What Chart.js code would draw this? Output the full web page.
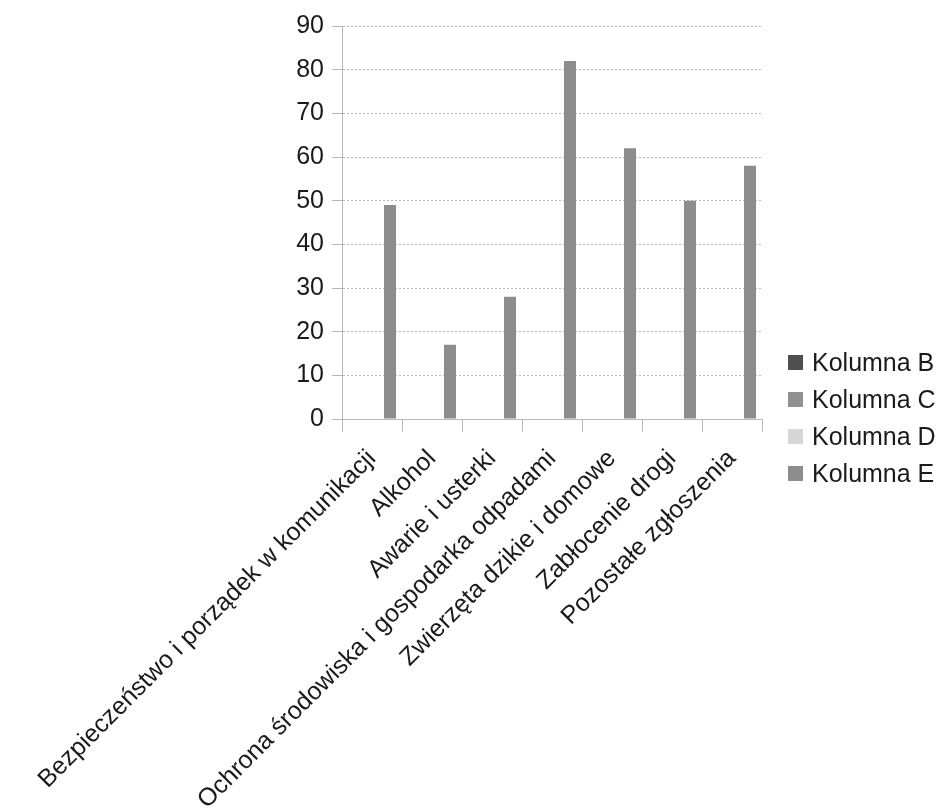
<!DOCTYPE html>
<html>
<head>
<meta charset="utf-8">
<script src="https://cdn.jsdelivr.net/npm/chart.js@4"></script>
<style>
  html, body { margin: 0; padding: 0; background: #fff; }
  #wrap { position: relative; width: 941px; height: 812px; }
  #legend { position: absolute; left: 788px; top: 344px; font-family: "Liberation Sans", Arial, sans-serif; font-size: 25px; color: #1a1a1a; }
  #legend .row { height: 37px; display: flex; align-items: center; white-space: nowrap; }
  #legend .box { width: 15px; height: 15px; margin-right: 9px; }
</style>
</head>
<body>
<div id="wrap">
  <canvas id="barChart" width="941" height="812"></canvas>
  <div id="legend"></div>
</div>
<script>
const categories = [
  'Bezpieczeństwo i porządek w komunikacji',
  'Alkohol',
  'Awarie i usterki',
  'Ochrona środowiska i gospodarka odpadami',
  'Zwierzęta dzikie i domowe',
  'Zabłocenie drogi',
  'Pozostałe zgłoszenia'
];
const seriesNames = ['Kolumna B', 'Kolumna C', 'Kolumna D', 'Kolumna E'];
const seriesColors = ['#4f4f4f', '#919191', '#d6d6d6', '#8d8d8d'];
const kolumnaB = [null, null, null, null, null, null, null];
const kolumnaC = [null, null, null, null, null, null, null];
const kolumnaD = [null, null, null, null, null, null, null];
const kolumnaE = [49, 17, 28, 82, 62, 50, 58];
const yMin = 0, yMax = 90, yStep = 10;

const seriesData = [kolumnaB, kolumnaC, kolumnaD, kolumnaE];
const font = { family: '"Liberation Sans", Arial, sans-serif', size: 25 };

// legend as plain html, next to the plot
const legendEl = document.getElementById('legend');
seriesNames.forEach((name, i) => {
  const row = document.createElement('div');
  row.className = 'row';
  row.innerHTML = '<span class="box" style="background:' + seriesColors[i] + '"></span>' + name;
  legendEl.appendChild(row);
});

const ctx = document.getElementById('barChart');

const config = {
  type: 'bar',
  data: {
    labels: categories,
    datasets: seriesNames.map((name, i) => ({
      label: name,
      data: seriesData[i],
      backgroundColor: seriesColors[i],
      borderWidth: 0,
      categoryPercentage: 0.8,
      barPercentage: 1.0
    }))
  },
  options: {
    responsive: false,
    devicePixelRatio: 1,
    animation: false,
    layout: {
      padding: { top: 26, left: 0, right: 179, bottom: 0 }
    },
    scales: {
      x: {
        grid: {
          offset: true,
          drawOnChartArea: false,
          drawTicks: true,
          tickLength: 13,
          color: '#b8b8b8'
        },
        border: { display: true, color: '#b8b8b8', dash: [2, 2] },
        ticks: {
          autoSkip: false,
          minRotation: 45,
          maxRotation: 45,
          padding: 12,
          color: '#1a1a1a',
          font: font
        },
        afterFit: (scale) => { scale.height = 812 - 419; }
      },
      y: {
        min: yMin,
        max: yMax,
        grid: {
          color: '#b8b8b8',
          tickLength: 10,
          drawTicks: true
        },
        border: { display: true, color: '#b8b8b8', dash: [2, 2] },
        ticks: {
          stepSize: yStep,
          padding: 8,
          color: '#1a1a1a',
          font: font
        },
        afterFit: (scale) => { scale.width = 342; }
      }
    },
    plugins: {
      legend: { display: false },
      tooltip: { enabled: false }
    }
  }
};

new Chart(ctx, config);
</script>
</body>
</html>
